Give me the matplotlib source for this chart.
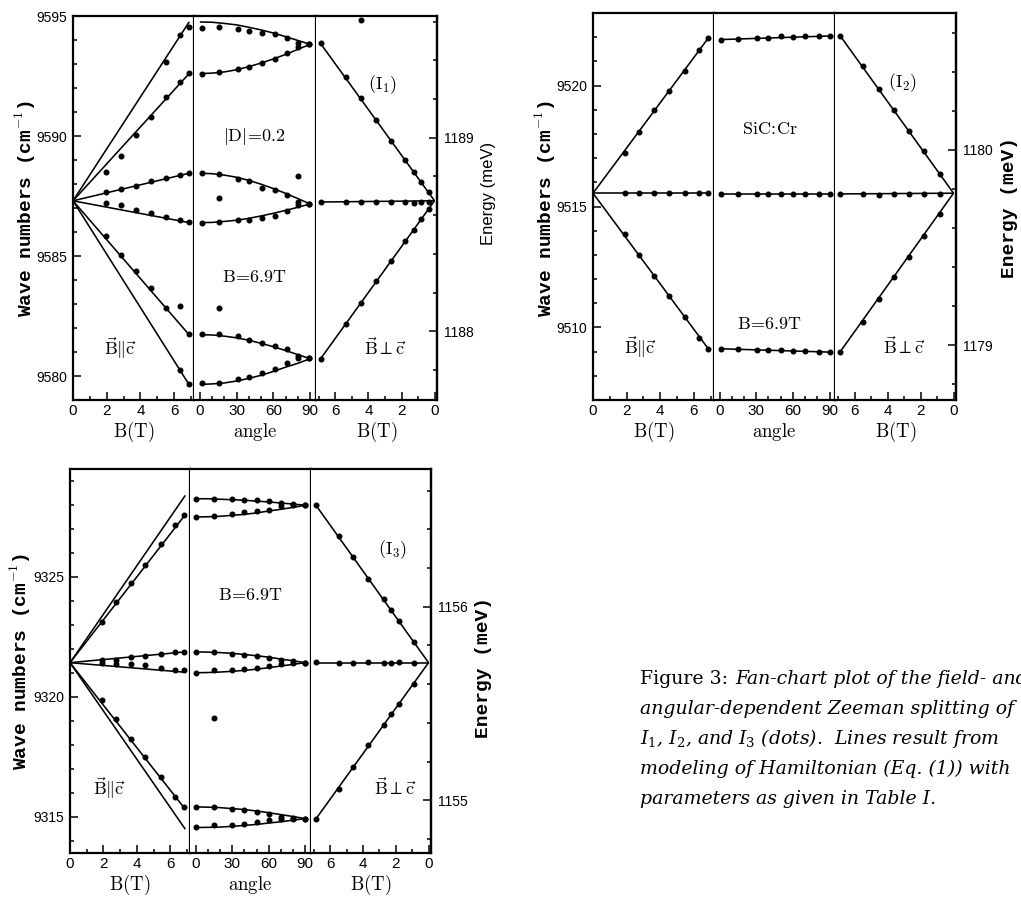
import numpy as np
import matplotlib
matplotlib.use("Agg")
import matplotlib.pyplot as plt
from matplotlib.text import Annotation
from matplotlib.ticker import MultipleLocator, FormatStrFormatter

W, H = 1021, 899
nan = np.nan

FIELD = 6.9            # highest applied field (T)
CM_PER_MEV = 8.06554   # 1 meV in cm^-1

# ---------------------------------------------------------------- I1
I1_ZERO = 9587.3
I1_PAR_B = [1.95, 2.85, 3.75, 4.65, 5.5, 6.35, 6.9]
I1_PAR_END = [9594.76, 9592.61, 9588.45, 9586.39, 9581.71, 9579.63]
I1_PAR_DOTS = [
    [nan, nan, nan, nan, 9593.10, 9594.21, 9594.56],
    [9588.50, 9589.18, 9590.05, 9590.79, 9591.62, 9592.27, 9592.62],
    [9587.65, 9587.79, 9587.93, 9588.11, 9588.25, 9588.39, 9588.46],
    [9587.21, 9587.11, 9586.93, 9586.79, 9586.63, 9586.52, 9586.41],
    [9585.82, 9585.06, 9584.37, 9583.67, 9582.84, 9582.91, 9581.73],
    [nan, nan, nan, nan, nan, 9580.26, 9579.65],
]
ANGLE_GRID = [0, 10, 20, 30, 40, 50, 60, 70, 80, 90]
I1_ANG_CURVES = [
    [9594.75, 9594.74, 9594.69, 9594.63, 9594.53, 9594.42, 9594.29, 9594.14, 9593.98, 9593.82],
    [9592.60, 9592.62, 9592.67, 9592.76, 9592.89, 9593.04, 9593.21, 9593.40, 9593.61, 9593.82],
    [9588.45, 9588.43, 9588.37, 9588.28, 9588.15, 9587.99, 9587.81, 9587.61, 9587.39, 9587.17],
    [9586.39, 9586.40, 9586.44, 9586.49, 9586.57, 9586.67, 9586.78, 9586.90, 9587.03, 9587.17],
    [9581.72, 9581.71, 9581.66, 9581.59, 9581.49, 9581.36, 9581.22, 9581.06, 9580.89, 9580.72],
    [9579.65, 9579.67, 9579.71, 9579.79, 9579.90, 9580.03, 9580.19, 9580.37, 9580.53, 9580.72],
]
I1_ANG_DEG = [2, 16, 31, 40, 51, 61, 71, 80, 89]
I1_ANG_DOTS = [
    [9594.51, 9594.56, 9594.46, 9594.39, 9594.28, 9594.24, 9594.10, 9593.86, 9593.82],
    [9592.59, 9592.68, 9592.80, 9592.89, 9593.03, 9593.20, 9593.45, 9593.72, 9593.82],
    [9588.46, 9588.43, 9588.22, 9588.11, 9587.83, 9587.76, 9587.56, 9587.24, 9587.18],
    [9586.38, 9586.40, 9586.49, 9586.52, 9586.58, 9586.68, 9586.86, 9587.14, 9587.18],
    [9581.73, 9581.77, 9581.66, 9581.52, 9581.39, 9581.25, 9581.11, 9580.83, 9580.73],
    [9579.72, 9579.69, 9579.86, 9579.96, 9580.11, 9580.28, 9580.56, 9580.76, 9580.73],
]
I1_ANG_EXTRA_DEG = [16, 16, 80]
I1_ANG_EXTRA = [9587.42, 9582.84, 9588.32]
I1_PERP_B = [6.9, 5.36, 4.46, 3.52, 2.62, 1.76, 1.26, 0.82, 0.36]
I1_PERP_END = [9593.85, 9587.25, 9580.72]
I1_PERP_DOTS = [
    [9593.88, 9592.47, 9591.60, 9590.68, 9589.80, 9588.98, 9588.50, 9588.08, 9587.66],
    [9587.26, 9587.26, 9587.27, 9587.26, 9587.25, 9587.24, 9587.22, 9587.25, 9587.27],
    [9580.72, 9582.15, 9583.04, 9583.95, 9584.80, 9585.63, 9586.09, 9586.53, 9586.96],
]
I1_PERP_EXTRA_B = [4.46]
I1_PERP_EXTRA = [9594.83]

# ---------------------------------------------------------------- I2
I2_ZERO = 9515.55
I2_PAR_B = [1.9, 2.75, 3.65, 4.55, 5.45, 6.3, 6.85]
I2_PAR_END = [9522.0, 9515.55, 9509.08]
I2_PAR_DOTS = [
    [9517.20, 9518.10, 9518.97, 9519.77, 9520.62, 9521.47, 9521.97],
    [9515.56, 9515.56, 9515.56, 9515.55, 9515.55, 9515.56, 9515.56],
    [9513.87, 9512.98, 9512.11, 9511.29, 9510.43, 9509.57, 9509.12],
]
I2_ANG_GRID = [0, 90]
I2_ANG_CURVES = [
    [9521.90, 9522.05],
    [9515.52, 9515.52],
    [9509.12, 9508.98],
]
I2_ANG_DEG = [1, 15, 31, 40, 50, 60, 70, 81, 90]
I2_ANG_DOTS = [
    [9521.89, 9521.93, 9521.96, 9521.97, 9522.04, 9522.02, 9522.04, 9522.05, 9522.04],
    [9515.50, 9515.52, 9515.52, 9515.52, 9515.53, 9515.51, 9515.52, 9515.52, 9515.50],
    [9509.10, 9509.12, 9509.08, 9509.05, 9509.05, 9509.02, 9509.01, 9508.98, 9508.98],
]
I2_PERP_B = [6.9, 5.5, 4.55, 3.62, 2.72, 1.77, 0.81]
I2_PERP_END = [9522.07, 9515.52, 9508.98]
I2_PERP_DOTS = [
    [9522.05, 9520.79, 9519.86, 9519.01, 9518.14, 9517.29, 9516.35],
    [9515.52, 9515.50, 9515.49, 9515.50, 9515.50, 9515.51, 9515.52],
    [9509.00, 9510.22, 9511.18, 9512.08, 9512.91, 9513.80, 9514.70],
]

# ---------------------------------------------------------------- I3
I3_ZERO = 9321.43
I3_PAR_B = [1.9, 2.75, 3.65, 4.5, 5.45, 6.3, 6.85]
I3_PAR_END = [9328.40, 9327.60, 9321.88, 9321.03, 9315.32, 9314.49]
I3_PAR_DOTS = [
    [nan, nan, nan, nan, nan, nan, nan],
    [9323.11, 9323.96, 9324.76, 9325.49, 9326.39, 9327.18, 9327.57],
    [9321.53, 9321.56, 9321.67, 9321.69, 9321.81, 9321.88, 9321.88],
    [9321.40, 9321.38, 9321.36, 9321.32, 9321.21, 9321.14, 9321.11],
    [9319.89, 9319.10, 9318.26, 9317.50, 9316.67, 9315.83, 9315.42],
    [nan, nan, nan, nan, nan, nan, nan],
]
I3_ANG_CURVES = [
    [9328.26, 9328.26, 9328.24, 9328.22, 9328.20, 9328.16, 9328.13, 9328.08, 9328.04, 9327.99],
    [9327.50, 9327.51, 9327.53, 9327.57, 9327.61, 9327.67, 9327.75, 9327.82, 9327.90, 9327.99],
    [9321.88, 9321.87, 9321.85, 9321.82, 9321.77, 9321.72, 9321.66, 9321.58, 9321.51, 9321.43],
    [9321.01, 9321.02, 9321.04, 9321.07, 9321.11, 9321.16, 9321.22, 9321.29, 9321.36, 9321.43],
    [9315.42, 9315.41, 9315.39, 9315.35, 9315.31, 9315.25, 9315.18, 9315.10, 9315.02, 9314.93],
    [9314.56, 9314.57, 9314.58, 9314.61, 9314.65, 9314.69, 9314.75, 9314.80, 9314.87, 9314.93],
]
I3_ANG_DEG = [0, 15, 30, 40, 50, 60, 70, 80, 90]
I3_ANG_DOTS = [
    [9328.26, 9328.24, 9328.24, 9328.22, 9328.19, 9328.17, 9328.08, 9328.03, 9327.99],
    [9327.50, 9327.53, 9327.64, 9327.71, 9327.74, 9327.78, 9327.94, 9327.99, 9327.99],
    [9321.88, 9321.88, 9321.81, 9321.76, 9321.69, 9321.63, 9321.56, 9321.50, 9321.43],
    [9321.01, 9321.14, 9321.14, 9321.18, 9321.22, 9321.28, 9321.39, 9321.42, 9321.43],
    [9315.42, 9315.42, 9315.35, 9315.28, 9315.21, 9315.14, 9315.00, 9314.96, 9314.93],
    [9314.58, 9314.65, 9314.68, 9314.72, 9314.79, 9314.86, 9314.90, 9314.93, 9314.93],
]
I3_ANG_EXTRA_DEG = [15]
I3_ANG_EXTRA = [9319.14]
I3_PERP_B = [6.9, 5.48, 4.61, 3.69, 2.74, 2.29, 1.83, 0.91]
I3_PERP_END = [9328.01, 9321.43, 9314.90]
I3_PERP_DOTS = [
    [9327.99, 9326.69, 9325.83, 9324.93, 9324.10, 9323.61, 9323.17, 9322.29],
    [9321.44, 9321.43, 9321.43, 9321.44, 9321.43, 9321.43, 9321.44, 9321.43],
    [9314.93, 9316.18, 9317.08, 9317.99, 9318.82, 9319.31, 9319.72, 9320.56],
]

# ---------------------------------------------------------------- style
plt.rcParams["font.family"] = "Liberation Sans"
LINE_KW = dict(color="black", lw=1.15, solid_capstyle="butt", zorder=2)
DOT_KW = dict(color="black", ls="none", marker="o", ms=3.3, zorder=3)
FRAME_LW = 1.6
CM_TEXT = dict(math_fontfamily="cm", color="black", ha="center", va="center")

fig = plt.figure(figsize=(W / 100, H / 100), dpi=100)


def px_rect(x0, y0, x1, y1):
    return [x0 / W, 1 - y1 / H, (x1 - x0) / W, (y1 - y0) / H]


def draw_fan(box, ylim, zero, par, ang, perp, texts, mev_ticks, xlabel_y):
    x0, y0, x1, y1 = box
    w = (x1 - x0) / 3.0
    axes = [fig.add_axes(px_rect(x0 + i * w, y0, x0 + (i + 1) * w, y1)) for i in range(3)]
    ax_par, ax_ang, ax_perp = axes

    # B || c fan
    for end in par["end"]:
        ax_par.plot([0, FIELD], [zero, end], **LINE_KW)
    for vals in par["dots"]:
        ax_par.plot(par["b"], vals, **DOT_KW)

    # angular dependence at 6.9 T
    for curve in ang["curves"]:
        ax_ang.plot(ang["grid"], curve, **LINE_KW)
    for vals in ang["dots"]:
        ax_ang.plot(ang["deg"], vals, **DOT_KW)
    if ang.get("extra_deg"):
        ax_ang.plot(ang["extra_deg"], ang["extra"], **DOT_KW)

    # B perp c fan
    for end in perp["end"]:
        ax_perp.plot([FIELD, 0], [end, zero], **LINE_KW)
    for vals in perp["dots"]:
        ax_perp.plot(perp["b"], vals, **DOT_KW)
    if perp.get("extra_b"):
        ax_perp.plot(perp["extra_b"], perp["extra"], **DOT_KW)

    ax_par.set_xlim(0, 7.2)
    ax_ang.set_xlim(-4.5, 94.5)
    ax_perp.set_xlim(7.2, -0.15)
    for ax in axes:
        ax.set_ylim(*ylim)
        for sp in ax.spines.values():
            sp.set_linewidth(FRAME_LW)
        ax.tick_params(axis="x", which="both", direction="in", top=False,
                       labelsize=11, pad=3, width=1.1)
        ax.tick_params(axis="x", which="major", length=6)
        ax.tick_params(axis="x", which="minor", length=3)
        ax.tick_params(axis="y", which="both", left=False, right=False, labelleft=False)
    for ax in (ax_ang, ax_perp):
        ax.spines["left"].set_visible(False)

    ax_par.set_xticks([0, 2, 4, 6])
    ax_par.xaxis.set_minor_locator(MultipleLocator(1))
    ax_perp.set_xticks([6, 4, 2, 0])
    ax_perp.xaxis.set_minor_locator(MultipleLocator(1))
    ax_ang.set_xticks([0, 30, 60, 90])
    ax_ang.xaxis.set_minor_locator(MultipleLocator(10))

    ax_par.yaxis.set_major_locator(MultipleLocator(5))
    ax_par.yaxis.set_minor_locator(MultipleLocator(1))
    ax_par.yaxis.set_major_formatter(FormatStrFormatter("%d"))
    ax_par.tick_params(axis="y", which="both", left=True, labelleft=True,
                       direction="in", labelsize=10, pad=4, width=1.1)
    ax_par.tick_params(axis="y", which="major", length=6)
    ax_par.tick_params(axis="y", which="minor", length=3)

    sec = ax_perp.secondary_yaxis(
        "right", functions=(lambda c: c / CM_PER_MEV, lambda e: e * CM_PER_MEV))
    sec.set_yticks(mev_ticks)
    sec.yaxis.set_major_formatter(FormatStrFormatter("%d"))
    sec.yaxis.set_minor_locator(MultipleLocator(0.2))
    sec.tick_params(axis="y", which="both", direction="in", labelsize=10, pad=5, width=1.1)
    sec.tick_params(axis="y", which="major", length=6)
    sec.tick_params(axis="y", which="minor", length=3)
    sec.spines["right"].set_linewidth(FRAME_LW)

    for i, lab in enumerate(["B(T)", "angle", "B(T)"]):
        cx = x0 + (i + 0.5) * w
        fig.text(cx / W, 1 - xlabel_y / H, r"$\mathrm{%s}$" % lab, fontsize=13.5, **CM_TEXT)

    for idx, fx, fy, s, size in texts:
        axes[idx].text(fx, fy, s, transform=axes[idx].transAxes, fontsize=size, **CM_TEXT)
    return axes


PAR_C = r"$\vec{\mathrm{B}}\Vert\vec{\mathrm{c}}$"
PERP_C = r"$\vec{\mathrm{B}}\perp\vec{\mathrm{c}}$"
B69 = r"$\mathrm{B\!=\!6.9T}$"

draw_fan(
    (73, 16, 437, 400), (9579.0, 9595.0), I1_ZERO,
    dict(b=I1_PAR_B, end=I1_PAR_END, dots=I1_PAR_DOTS),
    dict(grid=ANGLE_GRID, curves=I1_ANG_CURVES, deg=I1_ANG_DEG, dots=I1_ANG_DOTS,
         extra_deg=I1_ANG_EXTRA_DEG, extra=I1_ANG_EXTRA),
    dict(b=I1_PERP_B, end=I1_PERP_END, dots=I1_PERP_DOTS,
         extra_b=I1_PERP_EXTRA_B, extra=I1_PERP_EXTRA),
    [(1, 0.5, 0.685, r"$|\mathrm{D}|\!=\!0.2$", 13),
     (1, 0.5, 0.32, B69, 13),
     (2, 0.55, 0.82, r"$(\mathrm{I}_1)$", 13),
     (0, 0.39, 0.135, PAR_C, 13),
     (2, 0.57, 0.135, PERP_C, 13)],
    [1188, 1189], 432)

draw_fan(
    (593, 13, 956, 400), (9507.0, 9523.0), I2_ZERO,
    dict(b=I2_PAR_B, end=I2_PAR_END, dots=I2_PAR_DOTS),
    dict(grid=I2_ANG_GRID, curves=I2_ANG_CURVES, deg=I2_ANG_DEG, dots=I2_ANG_DOTS),
    dict(b=I2_PERP_B, end=I2_PERP_END, dots=I2_PERP_DOTS),
    [(1, 0.46, 0.70, r"$\mathrm{SiC\!:\!Cr}$", 13),
     (1, 0.46, 0.196, B69, 13),
     (2, 0.56, 0.82, r"$(\mathrm{I}_2)$", 13),
     (0, 0.39, 0.137, PAR_C, 13),
     (2, 0.57, 0.137, PERP_C, 13)],
    [1179, 1180], 432)

draw_fan(
    (70, 469, 431, 853), (9313.5, 9329.5), I3_ZERO,
    dict(b=I3_PAR_B, end=I3_PAR_END, dots=I3_PAR_DOTS),
    dict(grid=ANGLE_GRID, curves=I3_ANG_CURVES, deg=I3_ANG_DEG, dots=I3_ANG_DOTS,
         extra_deg=I3_ANG_EXTRA_DEG, extra=I3_ANG_EXTRA),
    dict(b=I3_PERP_B, end=I3_PERP_END, dots=I3_PERP_DOTS),
    [(1, 0.5, 0.67, B69, 13),
     (2, 0.68, 0.79, r"$(\mathrm{I}_3)$", 13),
     (0, 0.33, 0.17, PAR_C, 13),
     (2, 0.70, 0.17, PERP_C, 13)],
    [1155, 1156], 885)

# axis titles
MONO = dict(family="Liberation Mono", weight="bold", fontsize=14, rotation=90,
            ha="center", va="center", math_fontfamily="cm")
WAVE = r"Wave numbers (cm$^{-1}$)"
fig.text(25 / W, 1 - 208 / H, WAVE, **MONO)
fig.text(545 / W, 1 - 208 / H, WAVE, **MONO)
fig.text(20 / W, 1 - 661 / H, WAVE, **MONO)
fig.text(488 / W, 1 - 193 / H, "Energy (meV)", family="Liberation Sans", fontsize=12,
         rotation=90, ha="center", va="center")
fig.text(1009 / W, 1 - 208 / H, "Energy (meV)", **MONO)
fig.text(483 / W, 1 - 668 / H, "Energy (meV)", **MONO)

# caption
CAP = dict(family="DejaVu Serif", fontsize=13.6, color="black")
cap_x = 640 / W
first = fig.text(cap_x, 1 - 684 / H, "Figure 3:", va="baseline", **CAP)
fig.add_artist(Annotation("Fan-chart plot of the field- and", xy=(1, 0), xycoords=first,
                          xytext=(5, 0), textcoords="offset points", va="bottom",
                          style="italic", **CAP))
caption_lines = [
    "angular-dependent Zeeman splitting of",
    r"$I_1$, $I_2$, and $I_3$ (dots).  Lines result from",
    "modeling of Hamiltonian (Eq. (1)) with",
    "parameters as given in Table I.",
]
for i, line in enumerate(caption_lines):
    fig.text(cap_x, 1 - (684 + 30 * (i + 1)) / H, line, va="baseline", style="italic",
             math_fontfamily="dejavuserif", **CAP)

fig.savefig("out.png", dpi=100)
